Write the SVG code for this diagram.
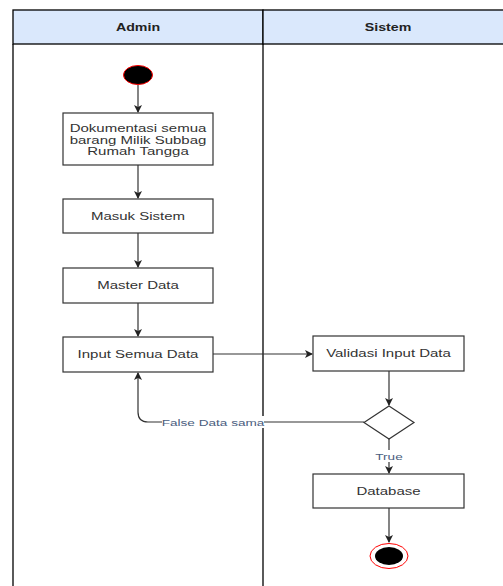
<svg xmlns="http://www.w3.org/2000/svg" width="503" height="586" viewBox="0 0 503 586">
<defs>
<style>
.lane{fill:none;stroke:#000;stroke-width:1.3}
.hdr{fill:#dae8fc;stroke:#000;stroke-width:1.3}
.ht{font-family:"Liberation Sans",Arial,sans-serif;font-size:10px;font-weight:bold;fill:#222;text-anchor:middle}
.box{fill:#fff;stroke:#333;stroke-width:1.2}
.t{font-family:"Liberation Sans",Arial,sans-serif;font-size:10.5px;fill:#333;text-anchor:middle}
.lbl{font-family:"Liberation Sans",Arial,sans-serif;font-size:9.5px;fill:#4a5d7e;text-anchor:middle}
.c{fill:none;stroke:#333;stroke-width:1.2}
</style>
<marker id="ah" markerWidth="10" markerHeight="10" refX="8" refY="5" orient="auto" markerUnits="userSpaceOnUse">
<path d="M1,1 L9,5 L1,9 L3,5 Z" fill="#222"/>
</marker>
</defs>
<rect width="503" height="586" fill="#fff"/>
<g id="swimlanes">
<rect class="hdr" x="13" y="10" width="250" height="34"/>
<rect class="hdr" x="263" y="10" width="245" height="34"/>
<line class="lane" x1="13" y1="44" x2="13" y2="586"/>
<line class="lane" x1="263" y1="44" x2="263" y2="586"/>
<text class="ht" transform="translate(138 31) scale(1.42 1)">Admin</text>
<text class="ht" transform="translate(388 31) scale(1.42 1)">Sistem</text>
</g>
<g id="connectors">
<line class="c" x1="138" y1="85" x2="138" y2="112" marker-end="url(#ah)"/>
<line class="c" x1="138" y1="165" x2="138" y2="198" marker-end="url(#ah)"/>
<line class="c" x1="138" y1="233" x2="138" y2="267" marker-end="url(#ah)"/>
<line class="c" x1="138" y1="303" x2="138" y2="336" marker-end="url(#ah)"/>
<line class="c" x1="213" y1="354" x2="312" y2="354" marker-end="url(#ah)"/>
<line class="c" x1="389" y1="371" x2="389" y2="405" marker-end="url(#ah)"/>
<path class="c" d="M364,422 H148 Q138,422 138,412 V373" marker-end="url(#ah)"/>
<line class="c" x1="389" y1="439" x2="389" y2="473" marker-end="url(#ah)"/>
<line class="c" x1="389" y1="508" x2="389" y2="542" marker-end="url(#ah)"/>
<rect x="162" y="416" width="102" height="12" fill="#fff"/>
<text class="lbl" transform="translate(213 425.5) scale(1.43 1)">False Data sama</text>
<rect x="375" y="450" width="28" height="12" fill="#fff"/>
<text class="lbl" transform="translate(389 460) scale(1.43 1)">True</text>
</g>
<g id="start">
<ellipse cx="138" cy="75" rx="14.5" ry="9.5" fill="#000" stroke="#ff0000" stroke-width="1"/>
</g>
<g id="dokumentasi">
<rect class="box" x="63" y="113" width="150" height="52"/>
<text class="t" transform="translate(138 132) scale(1.43 1)">Dokumentasi semua</text>
<text class="t" transform="translate(138 143.5) scale(1.43 1)">barang Milik Subbag</text>
<text class="t" transform="translate(138 155) scale(1.43 1)">Rumah Tangga</text>
</g>
<g id="masuk">
<rect class="box" x="63" y="199" width="150" height="34"/>
<text class="t" transform="translate(138 220) scale(1.43 1)">Masuk Sistem</text>
</g>
<g id="master">
<rect class="box" x="63" y="268" width="150" height="35"/>
<text class="t" transform="translate(138 289) scale(1.43 1)">Master Data</text>
</g>
<g id="input">
<rect class="box" x="63" y="337" width="150" height="35"/>
<text class="t" transform="translate(138 358) scale(1.43 1)">Input Semua Data</text>
</g>
<g id="validasi">
<rect class="box" x="313" y="336" width="151" height="35"/>
<text class="t" transform="translate(388.5 357) scale(1.43 1)">Validasi Input Data</text>
</g>
<g id="decision">
<polygon class="box" points="389,406 414,422.5 389,439 364,422.5"/>
</g>
<g id="database">
<rect class="box" x="313" y="474" width="151" height="34"/>
<text class="t" transform="translate(388.5 495) scale(1.43 1)">Database</text>
</g>
<g id="end">
<ellipse cx="389" cy="556" rx="19" ry="12.5" fill="#fff" stroke="#ff0000" stroke-width="1"/>
<ellipse cx="389" cy="556" rx="14" ry="9" fill="#000"/>
</g>
</svg>
